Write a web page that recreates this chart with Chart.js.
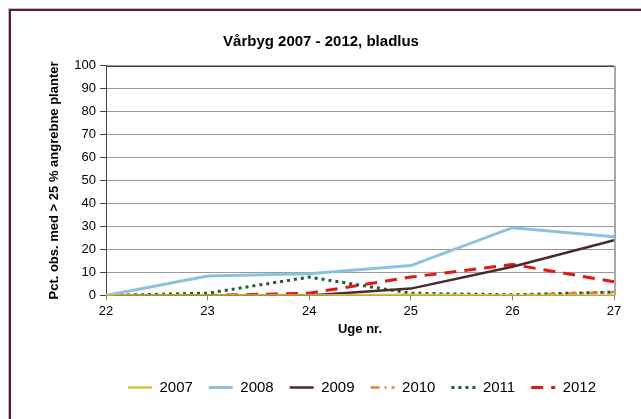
<!DOCTYPE html>
<html><head><meta charset="utf-8">
<script src="https://cdn.jsdelivr.net/npm/chart.js@4"></script>
<style>html,body{margin:0;padding:0;background:#fff;overflow:hidden;}#wrap{width:641px;height:419px;position:relative;}</style>
</head><body><div id="wrap"><canvas id="c" width="641" height="419"></canvas></div>
<script>
const weeks = ['22','23','24','25','26','27'];
const s2007 = [0,0,0,0.3,0,0];
const s2008 = [0,8.5,9.5,13,29.5,25.5];
const s2009 = [0,0,0,3,12.5,24];
const s2010 = [0,0,0,0,0,1.5];
const s2011 = [0,1,8,1,0.3,1.5];
const s2012 = [0,0,1,8,13.5,6];
const seriesNames = ['2007','2008','2009','2010','2011','2012'];

const FONT = 'Liberation Sans, Arial, sans-serif';

const framePlugin = {
  id: 'frame',
  afterLayout(chart) {
    if (chart.legend) { chart.legend.left += 41; chart.legend.right += 41; }
  },
  beforeDraw(chart) {
    const ctx = chart.ctx;
    ctx.save();
    ctx.fillStyle = '#fff';
    ctx.fillRect(0, 0, chart.width, chart.height);
    ctx.strokeStyle = '#bdbdbd';
    ctx.lineWidth = 1;
    ctx.strokeRect(8.5, 8.5, 800, 800);
    ctx.strokeStyle = '#5a1e1e';
    ctx.lineWidth = 2;
    ctx.strokeRect(10, 10, 800, 800);
    ctx.restore();
  },
  beforeDatasetsDraw(chart) {
    const a = chart.chartArea, ctx = chart.ctx;
    ctx.save();
    ctx.strokeStyle = '#444';
    ctx.lineWidth = 1;
    ctx.beginPath();
    ctx.moveTo(a.left, Math.round(a.top) + 0.5);
    ctx.lineTo(a.right, Math.round(a.top) + 0.5);
    ctx.stroke();
    ctx.strokeStyle = '#a8a8a8';
    ctx.lineWidth = 2;
    ctx.beginPath();
    ctx.moveTo(a.right + 1, a.top);
    ctx.lineTo(a.right + 1, a.bottom);
    ctx.stroke();
    ctx.restore();
  }
};

const ds = (label, data, color, dash, width) => ({
  label, data, borderColor: color, backgroundColor: color,
  borderWidth: width, borderDash: dash, pointRadius: 0, pointHoverRadius: 0,
  tension: 0, fill: false, borderCapStyle: 'butt'
});

new Chart(document.getElementById('c'), {
  type: 'line',
  data: {
    labels: weeks,
    datasets: [
      ds(seriesNames[0], s2007, '#d4c53a', [], 2.5),
      ds(seriesNames[1], s2008, '#8cc3dc', [], 3),
      ds(seriesNames[2], s2009, '#4b2a2a', [], 2.5),
      ds(seriesNames[3], s2010, '#e8802a', [9,5,2,5], 2.5),
      ds(seriesNames[4], s2011, '#1d5c36', [3,4], 3),
      ds(seriesNames[5], s2012, '#e01818', [12,8], 3)
    ]
  },
  options: {
    responsive: false,
    animation: false,
    events: [],
    layout: { padding: { left: 28, right: 27, top: 0, bottom: 14 } },
    plugins: {
      title: {
        display: true,
        text: 'Vårbyg 2007 - 2012, bladlus',
        color: '#000',
        font: { family: FONT, size: 15, weight: 'bold' },
        padding: { top: 33, bottom: 14.5 }
      },
      legend: {
        position: 'bottom',
        labels: {
          usePointStyle: true,
          pointStyle: 'line',
          pointStyleWidth: 24,
          boxHeight: 14,
          color: '#000',
          padding: 16,
          font: { family: FONT, size: 15 },
          generateLabels(chart) {
            const items = Chart.defaults.plugins.legend.labels.generateLabels(chart);
            items.forEach(it => {
              const d = chart.data.datasets[it.datasetIndex];
              it.lineDash = d.borderDash;
              it.lineWidth = d.borderWidth;
              it.strokeStyle = d.borderColor;
              it.fillStyle = d.borderColor;
              it.lineCap = 'butt';
            });
            return items;
          }
        }
      },
      tooltip: { enabled: false }
    },
    scales: {
      x: {
        offset: false,
        afterFit(s) { s.height = 68.5; },
        grid: { drawOnChartArea: false, drawTicks: true, tickLength: 5, color: '#888', offset: false },
        border: { display: true, color: '#888', width: 1 },
        ticks: { color: '#000', padding: 3, maxRotation: 0, font: { family: FONT, size: 13 } },
        title: { display: true, text: 'Uge nr.', color: '#000', padding: { top: 4, bottom: 26.4 },
          font: { family: FONT, size: 13, weight: 'bold' } }
      },
      y: {
        min: 0, max: 100,
        afterFit(s) { s.width = 78; },
        ticks: { stepSize: 10, color: '#000', padding: 4, font: { family: FONT, size: 13 } },
        grid: { color: '#999', tickColor: '#444', tickLength: 6, drawTicks: true },
        border: { display: true, color: '#444', width: 1 },
        title: { display: true, text: 'Pct. obs. med > 25 % angrebne planter', color: '#000',
          padding: { top: 19, bottom: 0 },
          font: { family: FONT, size: 13, weight: 'bold' } }
      }
    }
  },
  plugins: [framePlugin]
});
</script></body></html>
